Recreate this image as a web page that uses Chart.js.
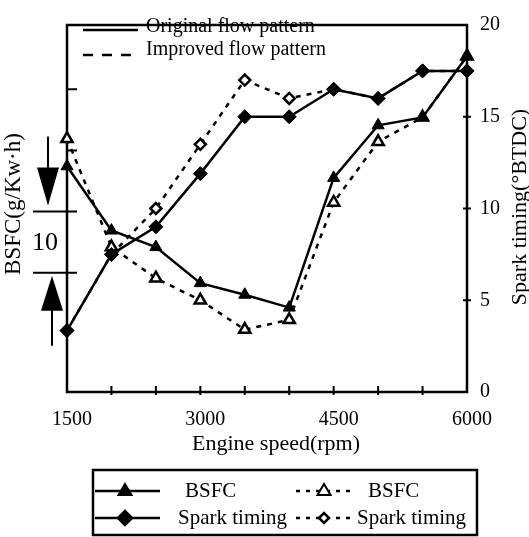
<!DOCTYPE html>
<html><head><meta charset="utf-8">
<script src="https://cdn.jsdelivr.net/npm/chart.js@4.4.1/dist/chart.umd.min.js"></script>
<style>html,body{margin:0;padding:0;background:#fff}#wrap{width:529px;height:537px;position:relative}</style>
</head><body><div id="wrap"><canvas id="c" width="529" height="537"></canvas></div>
<script>
// ---- data ----
const rpm = [1500, 2000, 2500, 3000, 3500, 4000, 4500, 5000, 5500, 6000];
const bsfcOriginal = [36.9, 26.4, 23.7, 17.8, 15.9, 13.8, 35.0, 43.6, 44.9, 54.9];   // relative g/kWh
const bsfcImproved = [41.4, 23.7, 18.6, 15.0, 10.2, 11.8, 31.0, 40.9, 44.9, 54.9];
const sparkOriginal = [3.35, 7.5, 9.0, 11.9, 15.0, 15.0, 16.5, 16.0, 17.5, 17.5];  // °BTDC
const sparkImproved = [3.35, 7.5, 10.0, 13.5, 17.0, 16.0, 16.5, 16.0, 17.5, 17.5];
const xTickLabels = [1500, 3000, 4500, 6000];
const xMinorTicks = [2000, 2500, 3000, 3500, 4000, 4500, 5000, 5500];
const sparkTicks = [0, 5, 10, 15, 20];
const bsfcMarks = [39.5, 49.5];          // unlabelled left-axis ticks
const bsfcScaleBar = [19.5, 29.5];       // the "10" g/kWh scale bar
const bsfcRange = [0, 60];

const FONT = "'Liberation Serif', 'Times New Roman', serif";
const pts = arr => rpm.map((x, i) => ({x: x, y: arr[i]}));

const deco = {
  id: 'deco',
  beforeDatasetsDraw(chart) {
    const ctx = chart.ctx, a = chart.chartArea;
    ctx.save();
    ctx.strokeStyle = '#000'; ctx.lineWidth = 2.5;
    ctx.strokeRect(a.left, a.top, a.right - a.left, a.bottom - a.top);
    const sx = chart.scales.x, yL = chart.scales.yL, yR = chart.scales.yR;
    ctx.lineWidth = 2;
    ctx.beginPath();
    xMinorTicks.forEach(v => { const px = sx.getPixelForValue(v); ctx.moveTo(px, a.bottom - 6); ctx.lineTo(px, a.bottom + 3); });
    sparkTicks.slice(1, -1).forEach(v => { const py = yR.getPixelForValue(v); ctx.moveTo(a.right - 4, py); ctx.lineTo(a.right + 4, py); });
    bsfcMarks.forEach(v => { const py = yL.getPixelForValue(v); ctx.moveTo(a.left, py); ctx.lineTo(a.left + 10, py); });
    bsfcScaleBar.forEach(v => { const py = yL.getPixelForValue(v); ctx.moveTo(a.left - 34, py); ctx.lineTo(a.left + 10, py); });
    ctx.stroke();
    ctx.restore();
  },
  afterDraw(chart) {
    const ctx = chart.ctx, yL = chart.scales.yL;
    ctx.save();
    ctx.fillStyle = '#000'; ctx.strokeStyle = '#000';
    const yTop = yL.getPixelForValue(bsfcScaleBar[1]);
    const yBot = yL.getPixelForValue(bsfcScaleBar[0]);
    ctx.lineWidth = 2;
    ctx.beginPath(); ctx.moveTo(48, yTop - 75); ctx.lineTo(48, yTop - 40); ctx.stroke();
    ctx.beginPath(); ctx.moveTo(37, yTop - 44); ctx.lineTo(59, yTop - 44); ctx.lineTo(48, yTop - 6); ctx.closePath(); ctx.fill();
    ctx.beginPath(); ctx.moveTo(52, yBot + 73); ctx.lineTo(52, yBot + 34); ctx.stroke();
    ctx.beginPath(); ctx.moveTo(41, yBot + 38); ctx.lineTo(63, yBot + 38); ctx.lineTo(52, yBot + 3); ctx.closePath(); ctx.fill();
    ctx.font = '26px ' + FONT; ctx.textAlign = 'center'; ctx.textBaseline = 'middle';
    ctx.fillText('10', 45, (yTop + yBot) / 2 + 1);
    // axis titles
    ctx.font = '23px ' + FONT;
    ctx.save(); ctx.translate(14, 204); ctx.rotate(-Math.PI / 2); ctx.fillText('BSFC(g/Kw\u00b7h)', 0, 0); ctx.restore();
    ctx.font = '22px ' + FONT;
    ctx.save(); ctx.translate(520, 207); ctx.rotate(-Math.PI / 2); ctx.fillText('Spark timing(\u00b0BTDC)', 0, 0); ctx.restore();
    ctx.fillText('Engine speed(rpm)', 276, 444);
    // top-left legend
    ctx.font = '20px ' + FONT;
    ctx.textAlign = 'left';
    ctx.lineWidth = 2.5;
    ctx.beginPath(); ctx.moveTo(83, 30); ctx.lineTo(138, 30); ctx.stroke();
    ctx.setLineDash([10, 9]);
    ctx.beginPath(); ctx.moveTo(83, 55); ctx.lineTo(138, 55); ctx.stroke();
    ctx.setLineDash([]);
    ctx.fillText('Original flow pattern', 146, 27);
    ctx.fillText('Improved flow pattern', 146, 50);
    // bottom legend box
    ctx.lineWidth = 2.5;
    ctx.strokeRect(93, 470, 384, 65);
    const rows = [491, 518];
    const drawTri = (x, y, fill) => { ctx.beginPath(); ctx.moveTo(x, y - 7); ctx.lineTo(x + 6.5, y + 4); ctx.lineTo(x - 6.5, y + 4); ctx.closePath(); ctx.fillStyle = fill; ctx.fill(); ctx.lineWidth = 2; ctx.stroke(); ctx.fillStyle = '#000'; };
    const drawDia = (x, y, r, fill) => { ctx.beginPath(); ctx.moveTo(x - r, y); ctx.lineTo(x, y - r); ctx.lineTo(x + r, y); ctx.lineTo(x, y + r); ctx.closePath(); ctx.fillStyle = fill; ctx.fill(); ctx.lineWidth = 2.5; ctx.stroke(); ctx.fillStyle = '#000'; };
    ctx.lineWidth = 2.5;
    rows.forEach(y => { ctx.beginPath(); ctx.moveTo(95, y); ctx.lineTo(160, y); ctx.stroke(); });
    ctx.setLineDash([4, 6]);
    rows.forEach(y => { ctx.beginPath(); ctx.moveTo(296, y); ctx.lineTo(354, y); ctx.stroke(); });
    ctx.setLineDash([]);
    drawTri(125, rows[0], '#000');
    drawDia(125, rows[1], 7, '#000');
    drawTri(324, rows[0], '#fff');
    drawDia(324, rows[1], 5, '#fff');
    ctx.font = '21px ' + FONT; ctx.textBaseline = 'middle';
    ctx.fillText('BSFC', 185, rows[0]);
    ctx.fillText('Spark timing', 178, rows[1]);
    ctx.fillText('BSFC', 368, rows[0]);
    ctx.fillText('Spark timing', 357, rows[1]);
    ctx.restore();
  }
};

new Chart(document.getElementById('c'), {
  type: 'line',
  data: {
    datasets: [
      { label: 'BSFC (original)', data: pts(bsfcOriginal), yAxisID: 'yL', borderColor: '#000', borderWidth: 2.5,
        pointStyle: 'triangle', pointRadius: 7, pointBackgroundColor: '#000', pointBorderColor: '#000', pointBorderWidth: 1, clip: false },
      { label: 'Spark timing (original)', data: pts(sparkOriginal), yAxisID: 'yR', borderColor: '#000', borderWidth: 2.5,
        pointStyle: 'rectRot', pointRadius: 7, pointBackgroundColor: '#000', pointBorderColor: '#000', pointBorderWidth: 1, clip: false },
      { label: 'BSFC (improved)', data: pts(bsfcImproved), yAxisID: 'yL', borderColor: '#000', borderWidth: 2.5, borderDash: [5, 6],
        pointStyle: 'triangle', pointRadius: 6.5, pointBackgroundColor: '#fff', pointBorderColor: '#000', pointBorderWidth: 2.5, clip: false },
      { label: 'Spark timing (improved)', data: pts(sparkImproved), yAxisID: 'yR', borderColor: '#000', borderWidth: 2.5, borderDash: [5, 6],
        pointStyle: 'rectRot', pointRadius: 5.5, pointBackgroundColor: '#fff', pointBorderColor: '#000', pointBorderWidth: 2.5, clip: false }
    ]
  },
  options: {
    responsive: false, animation: false, devicePixelRatio: 1,
    layout: { padding: { top: 15, left: 0, right: 0, bottom: 0 } },
    plugins: { legend: { display: false }, tooltip: { enabled: false } },
    elements: { line: { tension: 0 } },
    scales: {
      x: {
        type: 'linear', min: 1500, max: 6000,
        afterBuildTicks: s => { s.ticks = xTickLabels.map(v => ({value: v})); },
        grid: { display: false, drawTicks: false }, border: { display: false },
        ticks: { color: '#000', font: { family: FONT, size: 20 }, padding: 16, labelOffset: 5, maxRotation: 0, autoSkip: false,
                 callback: v => String(v) },
        afterFit: s => { s.height = 145; }
      },
      yL: {
        position: 'left', min: bsfcRange[0], max: bsfcRange[1],
        grid: { display: false, drawTicks: false }, border: { display: false },
        ticks: { display: false },
        afterFit: s => { s.width = 67; }
      },
      yR: {
        position: 'right', min: 0, max: 20,
        afterBuildTicks: s => { s.ticks = sparkTicks.map(v => ({value: v})); },
        grid: { display: false, drawTicks: false }, border: { display: false },
        ticks: { color: '#000', font: { family: FONT, size: 20 }, padding: 13, callback: v => String(v) },
        afterFit: s => { s.width = 62; }
      }
    }
  },
  plugins: [deco]
});
</script>
</body></html>
